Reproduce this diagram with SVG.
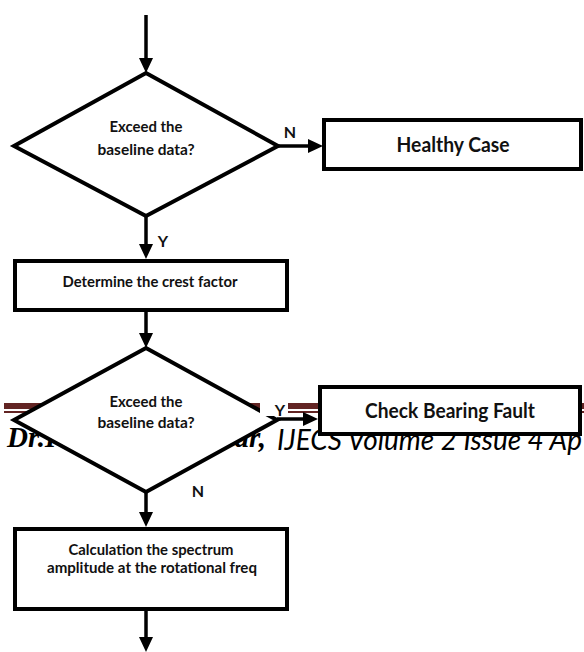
<svg xmlns="http://www.w3.org/2000/svg" width="584" height="652" viewBox="0 0 584 652">
<style>
.shape{fill:#fff;stroke:#000;stroke-width:4;}
.conn{fill:none;stroke:#000;stroke-width:3.5;}
.t{font-family:Lato,"Open Sans","Liberation Sans",sans-serif;font-weight:700;fill:#111;text-anchor:middle;}
.s{font-size:14.5px;}
.b{font-size:20px;}
.lbl{font-family:Lato,"Open Sans","Liberation Sans",sans-serif;font-weight:700;font-size:16px;fill:#111;text-anchor:middle;}
.band{fill:#622423;}
.hdr1{font-family:"Liberation Serif","Times New Roman",serif;font-weight:700;font-style:italic;font-size:29px;fill:#000;}
.hdr2{font-family:Lato,"Open Sans","Liberation Sans",sans-serif;font-style:italic;font-size:29px;fill:#000;}
</style>
<defs>
<marker id="ah" markerUnits="userSpaceOnUse" markerWidth="16" markerHeight="14" refX="10" refY="7" orient="auto">
<path d="M0,0 L15,7 L0,14 z" fill="#000"/>
</marker>
</defs>
<rect x="0" y="0" width="584" height="652" fill="#fff"/>
<g id="page-header">
<rect class="band" x="4" y="403" width="580" height="6"/>
<rect class="band" x="4" y="411" width="580" height="2"/>
<text class="hdr1" x="7" y="447">Dr.I</text>
<text class="hdr1" x="266" y="447" text-anchor="end">ar,</text>
<text class="hdr2" x="277" y="450" textLength="305" lengthAdjust="spacingAndGlyphs">IJECS Volume 2 Issue 4 Ap</text>
</g>
<g id="decision1">
<polygon class="shape" points="146,73 278,146 146,216 14,146"/>
<text class="t s" x="146" y="132" textLength="73" lengthAdjust="spacingAndGlyphs">Exceed the</text>
<text class="t s" x="146" y="155" textLength="97" lengthAdjust="spacingAndGlyphs">baseline data?</text>
</g>
<g id="healthy">
<rect class="shape" x="324" y="120" width="257" height="49"/>
<text class="t b" x="453" y="152" textLength="113" lengthAdjust="spacingAndGlyphs">Healthy Case</text>
</g>
<g id="crest">
<rect class="shape" x="15" y="261" width="272" height="49"/>
<text class="t s" x="150" y="287" textLength="175" lengthAdjust="spacingAndGlyphs">Determine the crest factor</text>
</g>
<g id="decision2">
<polygon class="shape" points="146,348 277,420 146,492 14,420"/>
<text class="t s" x="146" y="407" textLength="73" lengthAdjust="spacingAndGlyphs">Exceed the</text>
<text class="t s" x="146" y="428" textLength="97" lengthAdjust="spacingAndGlyphs">baseline data?</text>
</g>
<g id="bearing">
<rect class="shape" x="320" y="387" width="260" height="47"/>
<text class="t b" x="450" y="418" textLength="170" lengthAdjust="spacingAndGlyphs">Check Bearing Fault</text>
</g>
<g id="spectrum">
<rect class="shape" x="15" y="529" width="272" height="80"/>
<text class="t s" x="151" y="555" textLength="165" lengthAdjust="spacingAndGlyphs">Calculation the spectrum</text>
<text class="t s" x="152" y="573" textLength="210" lengthAdjust="spacingAndGlyphs">amplitude at the rotational freq</text>
</g>
<g id="connectors">
<path class="conn" d="M146,15 V68" marker-end="url(#ah)"/>
<path class="conn" d="M278,146 H318" marker-end="url(#ah)"/>
<path class="conn" d="M146,216 V254" marker-end="url(#ah)"/>
<path class="conn" d="M146,310 V343" marker-end="url(#ah)"/>
<path class="conn" d="M277,419 H313" marker-end="url(#ah)"/>
<path class="conn" d="M146,492 V522" marker-end="url(#ah)"/>
<path class="conn" d="M146,609 V647" marker-end="url(#ah)"/>
</g>
<g id="labels">
<text class="lbl" x="290" y="138">N</text>
<text class="lbl" x="163" y="247">Y</text>
<rect x="260" y="400" width="28" height="16" fill="#fff"/>
<text class="lbl" x="280" y="416">Y</text>
<text class="lbl" x="198" y="497">N</text>
</g>
</svg>
